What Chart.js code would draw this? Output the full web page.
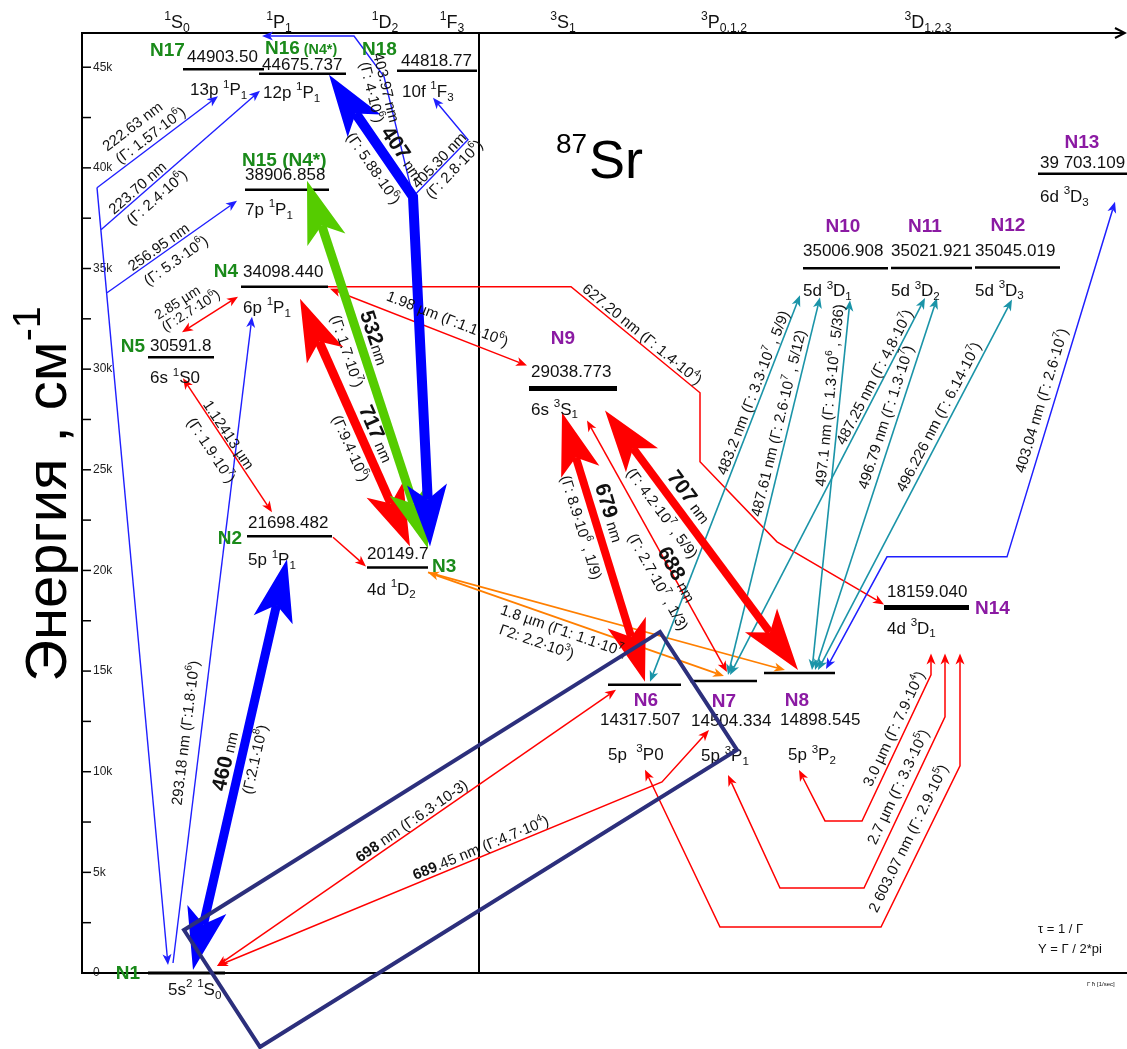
<!DOCTYPE html>
<html>
<head>
<meta charset="utf-8">
<script src="https://cdn.jsdelivr.net/npm/chart.js"></script>
<style>
  html, body { margin: 0; padding: 0; background: #fff; }
  #wrap { position: relative; width: 1127px; height: 1049px; }
</style>
</head>
<body>
<div id="wrap"><canvas id="c" width="1127" height="1049"></canvas></div>
<script>
const FONT = '"Liberation Sans", Arial, Helvetica, sans-serif';

// ---- Energy levels of 87Sr (cm^-1) ----
const levelNames    = ['N1','N2','N3','N4','N5','N6','N7','N8','N9','N10','N11','N12','N13','N14','N15','N16','N17','N18'];
const levelEnergy   = [0, 21698.482, 20149.7, 34098.440, 30591.8, 14317.507, 14504.334, 14898.545, 29038.773,
                       35006.908, 35021.921, 35045.019, 39703.109, 18159.040, 38906.858, 44675.737, 44903.50, 44818.77];
const levelDecimals = [-1, 3, 1, 3, 1, 3, 3, 3, 3, 3, 3, 3, 3, 3, 3, 3, 2, 2];
const levelTerms    = ['5s^{2} ^{1}S_{0}', '5p ^{1}P_{1}', '4d ^{1}D_{2}', '6p ^{1}P_{1}', '6s ^{1}S0',
                       '5p  ^{3}P0', '5p ^{3}P_{1}', '5p ^{3}P_{2}', '6s ^{3}S_{1}', '5d ^{3}D_{1}', '5d ^{3}D_{2}',
                       '5d ^{3}D_{3}', '6d ^{3}D_{3}', '4d ^{3}D_{1}', '7p ^{1}P_{1}', '12p ^{1}P_{1}', '13p ^{1}P_{1}', '10f ^{1}F_{3}'];
const levelTitles   = ['§N1§','§N2§','§N3§','§N4§','§N5§','§N6§','§N7§','§N8§','§N9§','§N10§','§N11§','§N12§',
                       '§N13§','§N14§','§N15 (N4*)§','§N16§~§ (N4*)§~','§N17§','§N18§'];
const tripletLevels = ['N6','N7','N8','N9','N10','N11','N12','N13','N14'];

// ---- Energy axis ----
const energyTicks      = [0, 2500, 5000, 7500, 10000, 12500, 15000, 17500, 20000, 22500, 25000,
                          27500, 30000, 32500, 35000, 37500, 40000, 42500, 45000];
const energyTickLabels = ['0', '', '5k', '', '10k', '', '15k', '', '20k', '', '25k',
                          '', '30k', '', '35k', '', '40k', '', '45k'];

// ---- Term columns along the top ----
const termHeaders = ['^{1}S_{0}', '^{1}P_{1}', '^{1}D_{2}', '^{1}F_{3}', '^{3}S_{1}', '^{3}P_{0,1,2}', '^{3}D_{1,2,3}'];
const headerX     = [9.5, 19.7, 30.3, 37.0, 48.1, 64.2, 84.6];
const separatorX  = 39.7;

// ---- Level layout: x extent (axis units) and text offsets (px) ----
const levelLayout = {
  N1:  {x:[6.6,14.3],  w:3,   name:[-8,-1,'right'],    term:[20,16]},
  N2:  {x:[16.5,25.0],        name:[-5,1,'right'],     val:[1,-14],  term:[1,23]},
  N3:  {x:[28.5,34.6],        name:[65,-2,'left'],     val:[0,-15],  term:[0,21]},
  N4:  {x:[15.9,24.6],        name:[-3,-16,'right'],   val:[2,-16],  term:[2,20]},
  N5:  {x:[6.6,13.2],         name:[-3,-12,'right'],   val:[2,-12],  term:[2,20]},
  N6:  {x:[52.6,59.9],        name:[38,14,'center'],   val:[-8,34],  term:[0,69]},
  N7:  {x:[60.8,67.5],        name:[34,19,'center'],   val:[1,39],   term:[11,74]},
  N8:  {x:[68.2,75.3],        name:[33,26,'center'],   val:[16,46],  term:[24,81]},
  N9:  {x:[44.7,53.5], w:5,   name:[34,-51,'center'],  val:[2,-18],  term:[2,20]},
  N10: {x:[72.1,80.6],        name:[40,-43,'center'],  val:[0,-18],  term:[0,22]},
  N11: {x:[80.9,89.0],        name:[34,-43,'center'],  val:[0,-18],  term:[0,22]},
  N12: {x:[89.3,97.8],        name:[33,-43,'center'],  val:[0,-18],  term:[0,22]},
  N13: {x:[95.6,104.5],       name:[44,-33,'center'],  val:[2,-12],  term:[2,22], group:true},
  N14: {x:[80.2,88.7], w:5,   name:[91,0,'left'],      val:[3,-17],  term:[3,20]},
  N15: {x:[16.3,24.7],        name:[-3,-31,'left'],    val:[0,-16],  term:[0,19]},
  N16: {x:[17.7,26.4],        name:[6,-27,'left'],     val:[3,-10],  term:[4,18]},
  N17: {x:[10.1,18.2],        name:[-33,-20,'left'],   val:[4,-13],  term:[7,20]},
  N18: {x:[31.5,39.5],        name:[-35,-23,'left'],   val:[4,-11],  term:[5,20]}
};

// ---- Transitions: path = level anchors (level, x, px offset) or free points (x, energy) ----
const at = (lv, x, dy) => ({lv, x, dy});
const pt = (x, e) => ({x, e});
const RED = '#ff0000', BLUE = '#0000ff', TBLUE = '#1f1fff', GREEN = '#55cc00', ORANGE = '#ff7f00', TEAL = '#1a94a8';

const routes = [
  // Rydberg series trunk and branches
  {c:TBLUE, w:1.4, h:'start', p:[at('N1',8.6,-8), pt(1.5,39015)]},
  {c:TBLUE, w:1.4, h:'end', p:[pt(1.5,39015), at('N17',13.6,27)],
    lb:[[0,.43,-28,'222.63 nm'],[0,.49,-10,'(Γ: 1.57·10^{6})']]},
  {c:TBLUE, w:1.4, h:'end', p:[pt(1.9,36927), at('N16',17.8,17)],
    lb:[[0,.26,-8,'223.70 nm'],[0,.30,12,'(Γ: 2.4·10^{6})']]},
  {c:TBLUE, w:1.4, h:'end', p:[pt(2.5,33796), at('N15',15.5,11)],
    lb:[[0,.43,-8,'256.95 nm'],[0,.47,13,'(Γ: 5.3·10^{6})']]},
  {c:TBLUE, w:1.4, h:'end', p:[at('N1',9.1,-10), at('N4',17.0,30)],
    lb:[[0,.353,-16,'293.18 nm (Γ:1.8·10^{6})']]},
  // singlet infrared lines
  {c:RED, w:1.5, h:'both', p:[at('N5',10.0,-25), at('N4',15.6,10)],
    lb:[[0,.18,-28,'2.85 µm',14],[0,.29,-14,'(Γ:2.7·10^{6})',14]]},
  {c:RED, w:1.5, h:'both', p:[at('N5',10.1,21), at('N2',19.0,-24)],
    lb:[[0,.45,-7,'1.12413 µm'],[0,.47,16,'(Γ: 1.9·10^{7})']]},
  {c:RED, w:1.5, h:'end', p:[at('N2',25.1,1), at('N3',28.4,-1)]},
  {c:RED, w:1.5, h:'both', p:[at('N4',24.8,2), at('N9',44.5,-23)],
    lb:[[0,.57,-15,'1.98 µm (Γ:1.1·10^{6})']]},
  {c:RED, w:1.5, h:'end', p:[at('N4',24.6,0), at('N4',48.9,0), pt(61.8,28826), pt(61.8,25397), pt(69.5,21421), at('N14',80.2,-3)],
    lb:[[1,.51,-9,'627.20 nm (Γ: 1.4·10^{4})']]},
  // branches of the 407 nm line
  {c:TBLUE, w:1.4, h:'end', p:[pt(33.1,38567), pt(30.2,44531), pt(27.2,46550), pt(18.0,46550)],
    lb:[[0,.91,0,'403.97 nm'],[0,.9,15,'(Γ: 4·10^{6})']]},
  {c:TBLUE, w:1.4, h:'end', p:[pt(33.1,38567), pt(38.6,41400), at('N18',35.1,27)],
    lb:[[0,.56,-7,'405.30 nm'],[0,.61,10,'(Γ: 2.8·10^{6})']]},
  // 1.8 µm intercombination pair
  {c:ORANGE, w:1.8, h:'end', p:[at('N3',34.6,5), at('N8',70.3,-3)]},
  {c:ORANGE, w:1.8, h:'both', p:[at('N3',34.6,5), at('N7',64.2,-5)],
    lb:[[0,.47,10,'1.8 µm (Γ1: 1.1·10^{7},'],[0,.40,29,'Γ2: 2.2·10^{3})']]},
  {c:RED, w:1.5, h:'both', p:[at('N9',50.5,32), at('N7',64.5,-9)],
    lb:[[0,.62,-3,'#688# nm'],[0,.61,16,'(Γ: 2.7·10^{7} , 1/3)']]},
  // 5p 3P -> 5d 3D
  {c:TEAL, w:1.6, h:'both', p:[at('N6',56.8,-3), at('N10',71.8,27)],
    lb:[[0,.74,-9,'483.2 nm (Γ: 3.3·10^{7} , 5/9)']]},
  {c:TEAL, w:1.6, h:'both', p:[at('N7',64.6,-6), at('N10',73.8,29)],
    lb:[[0,.66,-11,'487.61 nm (Γ: 2.6·10^{7} , 5/12)']]},
  {c:TEAL, w:1.6, h:'both', p:[at('N8',73.0,-3), at('N10',76.8,32)],
    lb:[[0,.74,-11,'497.1 nm (Γ: 1.3·10^{6} , 5/36)']]},
  {c:TEAL, w:1.6, h:'both', p:[at('N7',64.8,-6), at('N11',84.3,30)],
    lb:[[0,.78,-9,'487.25 nm (Γ: 4.8·10^{7})']]},
  {c:TEAL, w:1.6, h:'both', p:[at('N8',73.3,-3), at('N11',85.5,30)],
    lb:[[0,.67,-12,'496.79 nm (Γ: 1.3·10^{7})']]},
  {c:TEAL, w:1.6, h:'both', p:[at('N8',73.6,-3), at('N12',93.0,32)],
    lb:[[0,.67,-11,'496.226 nm (Γ: 6.14·10^{7})']]},
  {c:TBLUE, w:1.5, h:'both', p:[at('N8',74.4,-4), pt(80.5,20675), pt(92.5,20675), at('N13',103.3,28)],
    lb:[[2,.43,-13,'403.04 nm (Γ: 2.6·10^{7})']]},
  // 4d 3D1 decay channels
  {c:RED, w:1.5, h:'both', p:[at('N8',71.7,97), pt(74.3,7554), pt(78.0,7554), pt(84.9,14811), at('N14',84.9,46)],
    lb:[[2,.6,-11,'3.0 µm (Γ: 7.9·10^{4})']]},
  {c:RED, w:1.5, h:'both', p:[at('N7',64.6,94), pt(69.8,4225), pt(78.2,4225), pt(86.3,12723), at('N14',86.3,46)],
    lb:[[2,.56,-13,'2.7 µm (Γ: 3.3·10^{5})']]},
  {c:RED, w:1.5, h:'both', p:[at('N6',56.3,85), pt(63.8,2286), pt(79.9,2286), pt(87.8,10288), at('N14',87.8,46)],
    lb:[[2,.51,-15,'2 603.07 nm (Γ: 2.9·10^{5})']]},
  // clock and intercombination lines
  {c:RED, w:1.5, h:'both', p:[at('N1',13.5,-7), at('N6',53.4,5)],
    lb:[[0,.5,-9,'§698§ nm (Γ:6.3·10-3)']]},
  {c:RED, w:1.5, h:'both', p:[at('N1',13.5,-7), pt(58.0,9493), at('N7',62.7,49)],
    lb:[[0,.6,-9,'§689§.45 nm (Γ:4.7·10^{4})']]},
  // strong (laser) lines
  {c:BLUE, w:9, thick:true, h:'both', p:[at('N1',11.1,-3), at('N2',20.5,23)],
    lb:[[0,.5,-14,'#460# nm'],[0,.52,13,'(Γ:2.1·10^{8})']]},
  {c:RED, w:9, thick:true, h:'both', p:[at('N4',21.8,12), at('N3',32.8,-21)],
    lb:[[0,.57,-14,'#717# nm'],[0,.58,14,'(Γ:9.4·10^{6})']]},
  {c:GREEN, w:9, thick:true, h:'both', p:[at('N15',22.5,-9), at('N3',34.6,-19)],
    lb:[[0,.44,-14,'#532#nm'],[0,.45,15,'(Γ: 1.7·10^{7})']]},
  {c:BLUE, w:10, thick:true, h:'both', p:[at('N3',34.8,-21), pt(33.1,38567), at('N16',24.7,1)],
    lb:[[1,.28,-15,'#407# nm'],[1,.31,16,'(Γ: 5.88·10^{6})']]},
  {c:RED, w:8, thick:true, h:'both', p:[at('N9',48.0,24), at('N6',56.3,-3)],
    lb:[[0,.39,-15,'#679# nm'],[0,.41,15,'(Γ: 8.9·10^{6} , 1/9)']]},
  {c:RED, w:8, thick:true, h:'both', p:[at('N9',52.3,22), at('N8',71.6,-3)],
    lb:[[0,.37,-15,'#707# nm'],[0,.36,15,'(Γ: 4.2·10^{7} , 5/9)']]}
];

// highlighted pair of intercombination lines
const highlightBox = [pt(10.2,2137), pt(57.8,16948), pt(65.5,11083), pt(17.8,-3678)];

// ---- rich text: ^{sup} _{sub} §bold§ #big bold# ~small~ ----
function parseRich(str) {
  const runs = [];
  let bold = false, big = false, small = false, buf = '', i = 0;
  const push = (t, mode) => { if (t) runs.push({t, bold, big, small, mode}); };
  while (i < str.length) {
    const ch = str[i];
    if ((ch === '^' || ch === '_') && str[i + 1] === '{') {
      push(buf, 'n'); buf = '';
      const j = str.indexOf('}', i);
      push(str.slice(i + 2, j), ch === '^' ? 'sup' : 'sub');
      i = j + 1; continue;
    }
    if (ch === '§') { push(buf, 'n'); buf = ''; bold = !bold; i++; continue; }
    if (ch === '#') { push(buf, 'n'); buf = ''; bold = !bold; big = !big; i++; continue; }
    if (ch === '~') { push(buf, 'n'); buf = ''; small = !small; i++; continue; }
    buf += ch; i++;
  }
  push(buf, 'n');
  return runs;
}
function runFont(r, size) {
  let s = size * (r.big ? 1.4 : 1) * (r.small ? 0.75 : 1) * (r.mode !== 'n' ? 0.68 : 1);
  return (r.bold ? 'bold ' : '') + s.toFixed(1) + 'px ' + FONT;
}
function drawRich(ctx, str, x, y, size, color, align) {
  const runs = parseRich(str);
  ctx.save();
  ctx.fillStyle = color;
  ctx.textBaseline = 'alphabetic';
  ctx.textAlign = 'left';
  const widths = runs.map(r => { ctx.font = runFont(r, size); return ctx.measureText(r.t).width; });
  const total = widths.reduce((a, b) => a + b, 0);
  let cx = align === 'center' ? x - total / 2 : align === 'right' ? x - total : x;
  const base = y + size * 0.36;
  runs.forEach((r, k) => {
    ctx.font = runFont(r, size);
    let yy = base;
    if (r.mode === 'sup') yy -= size * 0.45;
    if (r.mode === 'sub') yy += size * 0.22;
    ctx.fillText(r.t, cx, yy);
    cx += widths[k];
  });
  ctx.restore();
}

function fmtEnergy(v, dec, group) {
  let s = v.toFixed(dec);
  if (group) s = s.replace(/^(\d+)(\d{3})\./, '$1 $2.');
  return s;
}

function head(ctx, tip, from, L, HW, N, color) {
  const dx = tip.x - from.x, dy = tip.y - from.y, len = Math.hypot(dx, dy);
  const ux = dx / len, uy = dy / len, nx = -uy, ny = ux;
  const bx = tip.x - ux * L, by = tip.y - uy * L;
  ctx.beginPath();
  ctx.moveTo(tip.x, tip.y);
  ctx.lineTo(bx + nx * HW, by + ny * HW);
  ctx.lineTo(tip.x - ux * (L - N), tip.y - uy * (L - N));
  ctx.lineTo(bx - nx * HW, by - ny * HW);
  ctx.closePath();
  ctx.fillStyle = color;
  ctx.fill();
}
function trimEnd(pts, i, j, d) {
  const a = pts[i], b = pts[j];
  const dx = b.x - a.x, dy = b.y - a.y, len = Math.hypot(dx, dy);
  const k = Math.min(d, len - 0.5) / len;
  pts[i] = {x: a.x + dx * k, y: a.y + dy * k};
}

const energyOf = {};
levelNames.forEach((n, i) => { energyOf[n] = levelEnergy[i]; });

function pixelMapper(chart) {
  const xs = chart.scales.x, ys = chart.scales.y;
  return p => ({
    x: xs.getPixelForValue(p.x),
    y: p.lv ? ys.getPixelForValue(energyOf[p.lv]) + p.dy : ys.getPixelForValue(p.e)
  });
}

function drawRoute(ctx, r, toPx) {
  const P = r.p.map(toPx);
  const L = r.thick ? 62 : 11, HW = r.thick ? 20 : 4.5, N = r.thick ? 15 : 3;
  const hs = r.h === 'start' || r.h === 'both';
  const he = r.h === 'end' || r.h === 'both';
  const pts = P.map(p => ({x: p.x, y: p.y}));
  if (he) trimEnd(pts, pts.length - 1, pts.length - 2, L - N);
  if (hs) trimEnd(pts, 0, 1, L - N);
  ctx.save();
  ctx.beginPath();
  pts.forEach((p, i) => i ? ctx.lineTo(p.x, p.y) : ctx.moveTo(p.x, p.y));
  ctx.strokeStyle = r.c;
  ctx.lineWidth = r.w;
  ctx.lineJoin = 'miter';
  ctx.lineCap = 'butt';
  ctx.stroke();
  if (he) head(ctx, P[P.length - 1], P[P.length - 2], L, HW, N, r.c);
  if (hs) head(ctx, P[0], P[1], L, HW, N, r.c);
  ctx.restore();
}

function drawRouteLabels(ctx, r, toPx) {
  if (!r.lb) return;
  const P = r.p.map(toPx);
  r.lb.forEach(([seg, t, off, text, size]) => {
    const a = P[seg], b = P[seg + 1];
    let ang = Math.atan2(b.y - a.y, b.x - a.x);
    if (ang > Math.PI / 2) ang -= Math.PI;
    else if (ang <= -Math.PI / 2) ang += Math.PI;
    const cx = a.x + (b.x - a.x) * t, cy = a.y + (b.y - a.y) * t;
    const nx = -Math.sin(ang), ny = Math.cos(ang);
    ctx.save();
    ctx.translate(cx + nx * off, cy + ny * off);
    ctx.rotate(ang);
    drawRich(ctx, text, 0, 0, size || 15, '#111', 'center');
    ctx.restore();
  });
}

// axis frame, separator and energy tick marks
const framePlugin = {
  id: 'frame',
  beforeDatasetsDraw(chart) {
    const {ctx, chartArea: a, scales: {x: xs, y: ys}} = chart;
    const seg = (x1, y1, x2, y2) => { ctx.beginPath(); ctx.moveTo(x1, y1); ctx.lineTo(x2, y2); ctx.stroke(); };
    ctx.save();
    ctx.strokeStyle = '#000';
    ctx.lineWidth = 2;
    seg(a.left, a.bottom, a.right, a.bottom);
    seg(a.left, a.top, a.right - 2, a.top);
    ctx.beginPath();
    ctx.moveTo(a.right - 12, a.top - 5); ctx.lineTo(a.right - 2, a.top); ctx.lineTo(a.right - 12, a.top + 5);
    ctx.stroke();
    const sx = xs.getPixelForValue(separatorX);
    seg(sx, a.top, sx, a.bottom);
    ctx.lineWidth = 1.5;
    energyTicks.forEach(v => { const y = ys.getPixelForValue(v); seg(a.left, y, a.left + 9, y); });
    ctx.restore();
  }
};

// transitions, level captions and annotations
const diagramPlugin = {
  id: 'diagram',
  afterDatasetsDraw(chart) {
    const {ctx, scales: {x: xs, y: ys}} = chart;
    const toPx = pixelMapper(chart);

    routes.filter(r => !r.thick).forEach(r => drawRoute(ctx, r, toPx));
    routes.filter(r => r.thick).forEach(r => drawRoute(ctx, r, toPx));

    // level captions
    levelNames.forEach((n, i) => {
      const L = levelLayout[n];
      const x0 = xs.getPixelForValue(L.x[0]);
      const y = ys.getPixelForValue(levelEnergy[i]);
      const col = tripletLevels.includes(n) ? '#8b1aa3' : '#1a8a1a';
      drawRich(ctx, levelTitles[i], x0 + L.name[0], y + L.name[1], 19, col, L.name[2]);
      if (L.val && levelDecimals[i] >= 0)
        drawRich(ctx, fmtEnergy(levelEnergy[i], levelDecimals[i], L.group), x0 + L.val[0], y + L.val[1], 17, '#111', 'left');
      drawRich(ctx, levelTerms[i], x0 + L.term[0], y + L.term[1], 17, '#111', 'left');
    });

    routes.forEach(r => drawRouteLabels(ctx, r, toPx));

    // highlight frame
    const B = highlightBox.map(toPx);
    ctx.save();
    ctx.beginPath();
    B.forEach((p, i) => i ? ctx.lineTo(p.x, p.y) : ctx.moveTo(p.x, p.y));
    ctx.closePath();
    ctx.strokeStyle = '#2c2f7c';
    ctx.lineWidth = 4;
    ctx.lineJoin = 'miter';
    ctx.stroke();
    ctx.restore();
  },
  afterDraw(chart) {
    const {ctx, chartArea: a, scales: {x: xs}} = chart;
    // term columns
    termHeaders.forEach((h, i) => drawRich(ctx, h, xs.getPixelForValue(headerX[i]), a.top - 11, 18, '#111', 'center'));
    // axis title
    ctx.save();
    ctx.translate(45, 494);
    ctx.rotate(-Math.PI / 2);
    drawRich(ctx, 'Энергия , см^{-1}', 0, 0, 58, '#000', 'center');
    ctx.restore();
    // isotope mark
    ctx.save();
    ctx.fillStyle = '#000';
    ctx.textBaseline = 'alphabetic';
    ctx.font = '28px ' + FONT;
    ctx.fillText('87', 556, 153);
    ctx.font = '54px ' + FONT;
    ctx.fillText('Sr', 589, 178);
    ctx.restore();
    // notes
    drawRich(ctx, 'τ = 1 / Γ', 1038, 928, 13, '#111', 'left');
    drawRich(ctx, 'Y = Γ / 2*pi', 1038, 948, 13, '#111', 'left');
    drawRich(ctx, 'Γ ħ [1/sec]', 1087, 984, 6, '#111', 'left');
  }
};

Chart.defaults.font.family = FONT;

const datasets = levelNames.map((n, i) => ({
  label: n,
  data: [{x: levelLayout[n].x[0], y: levelEnergy[i]}, {x: levelLayout[n].x[1], y: levelEnergy[i]}],
  showLine: true,
  borderColor: '#000',
  borderWidth: levelLayout[n].w || 2.5,
  borderCapStyle: 'butt',
  pointRadius: 0,
  pointHoverRadius: 0,
  clip: false
}));

new Chart(document.getElementById('c'), {
  type: 'scatter',
  data: {datasets},
  options: {
    responsive: false,
    animation: false,
    devicePixelRatio: 1,
    layout: {padding: {left: 82, top: 33, right: 0, bottom: 76}},
    plugins: {legend: {display: false}, tooltip: {enabled: false}},
    scales: {
      x: {type: 'linear', min: 0, max: 104.5, display: false},
      y: {
        type: 'linear', min: 0, max: 46700, position: 'left',
        grid: {display: false, drawTicks: false},
        border: {display: true, color: '#000', width: 2},
        afterBuildTicks: s => { s.ticks = energyTicks.map(v => ({value: v})); },
        afterFit: s => { s.width = 0; },
        ticks: {
          mirror: true, padding: 11, autoSkip: false, color: '#222',
          font: {size: 12},
          callback: v => energyTickLabels[energyTicks.indexOf(v)]
        }
      }
    }
  },
  plugins: [framePlugin, diagramPlugin]
});
</script>
</body>
</html>
